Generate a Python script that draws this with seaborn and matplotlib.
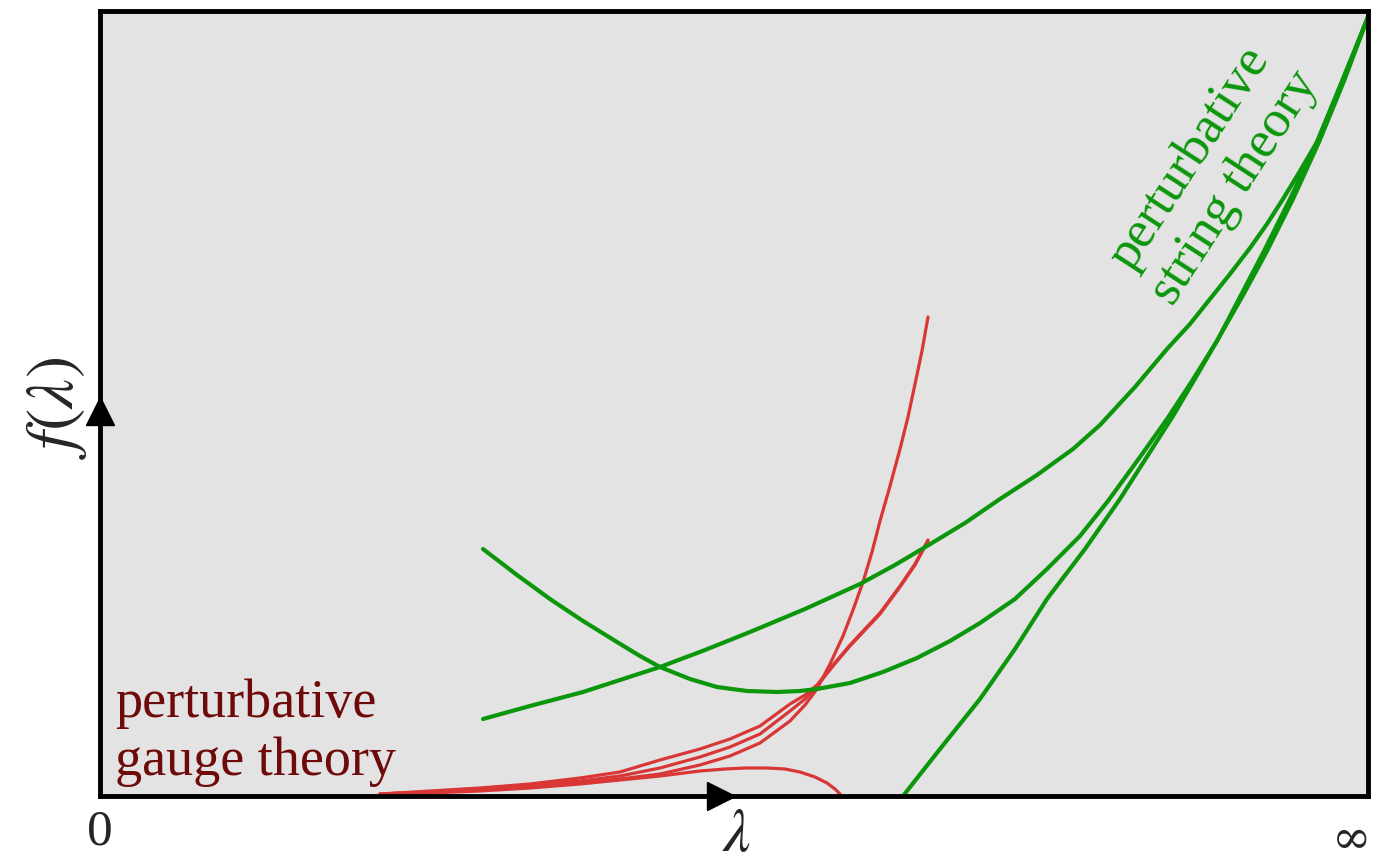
import numpy as np
import pandas as pd
import matplotlib
matplotlib.use("Agg")
import matplotlib.pyplot as plt
import seaborn as sns

# ---- data (lambda in chart units 0..1268, f in chart units 0..785) ----
red_1_x = [280, 330, 380, 430, 480, 520, 560, 600, 630, 660, 690, 705, 717, 730, 743, 753, 763, 772, 780, 790, 800, 808, 815, 822, 828]
red_1_y = [2, 4, 6, 9, 13, 17, 22, 31, 40, 53, 75, 91, 107, 132, 160, 186, 214, 244, 275, 310, 347, 379, 412, 445, 479]

red_2_x = [280, 330, 380, 430, 480, 520, 560, 600, 630, 660, 690, 705, 717, 733, 750, 765, 780, 800, 815, 828]
red_2_y = [2, 4, 7, 10, 15, 20, 28, 39, 49, 62, 85, 97, 110, 130, 150, 166, 182, 209, 231, 255]

red_3_x = [280, 330, 380, 430, 480, 520, 560, 600, 630, 660, 690, 705, 717, 733, 750, 765, 780, 800, 815, 828]
red_3_y = [2, 5, 8, 12, 18, 24, 36, 47, 57, 70, 92, 101, 111, 131, 151, 167, 183, 210, 232, 256]

red_4_x = [280, 330, 380, 430, 480, 520, 560, 600, 625, 645, 667, 685, 700, 715, 727, 735, 740]
red_4_y = [1, 3, 5, 8, 12, 16, 20, 25, 27, 28, 28, 27, 24, 19, 13, 7, 2]

green_1_x = [383, 417, 450, 483, 517, 540, 560, 590, 617, 647, 677, 700, 717, 750, 783, 817, 850, 880, 915, 947,
             980, 1008, 1040, 1067, 1092, 1117, 1140, 1163, 1190, 1217, 1242, 1268]
green_1_y = [247, 221, 197, 175, 154, 140, 129, 117, 109, 105, 104, 105, 107, 113, 124, 138, 155, 173, 197, 227,
             260, 295, 339, 377, 415, 455, 499, 543, 597, 654, 715, 779]

green_2_x = [383, 430, 483, 520, 560, 605, 650, 705, 760, 795, 827, 865, 900, 937, 973, 1000, 1035, 1067, 1090,
             1110, 1130, 1150, 1167, 1183, 1200, 1217, 1243, 1268]
green_2_y = [77, 90, 104, 116, 129, 146, 164, 187, 212, 231, 250, 273, 297, 321, 347, 371, 409, 447, 472,
             497, 522, 548, 572, 597, 625, 654, 715, 779]

green_3_x = [803, 840, 880, 915, 947, 985, 1020, 1050, 1073, 1096, 1118, 1142, 1166, 1193, 1219, 1244, 1268]
green_3_y = [0, 47, 97, 147, 197, 247, 297, 344, 380, 419, 457, 499, 543, 597, 654, 715, 779]

gauge_label = "perturbative\ngauge theory"
string_label = "perturbative\nstring theory"
x_tick_left = "0"
x_tick_right = "\u221e"
x_label = r"$\lambda$"
y_label = r"$f(\lambda)$"

RED = "#d93636"
GREEN = "#0b960b"
DARKRED = "#6e0a0a"
BG = "#e3e3e3"

def long_form(curves, name):
    frames = []
    for i, (xs, ys) in enumerate(curves):
        frames.append(pd.DataFrame({"lam": xs, "f": ys, "curve": f"{name}{i}"}))
    return pd.concat(frames, ignore_index=True)

red_df = long_form([(red_1_x, red_1_y), (red_2_x, red_2_y), (red_3_x, red_3_y), (red_4_x, red_4_y)], "r")
green_df = long_form([(green_1_x, green_1_y), (green_2_x, green_2_y), (green_3_x, green_3_y)], "g")

sns.set_style("white")
plt.rcParams["font.family"] = ["Liberation Serif", "DejaVu Serif"]
plt.rcParams["mathtext.fontset"] = "stix"

fig = plt.figure(figsize=(13.73, 8.62), dpi=100)
ax = fig.add_axes([100 / 1373, 65 / 862, 1268 / 1373, 785 / 862])
ax.set_facecolor(BG)

sns.lineplot(data=red_df, x="lam", y="f", units="curve", estimator=None, sort=False,
             color=RED, lw=2.3, ax=ax, legend=False, solid_capstyle="round", solid_joinstyle="round")
sns.lineplot(data=green_df, x="lam", y="f", units="curve", estimator=None, sort=False,
             color=GREEN, lw=3.0, ax=ax, legend=False, solid_capstyle="round", solid_joinstyle="round")

ax.set_xlim(0, 1268)
ax.set_ylim(0, 785)
ax.set_xticks([])
ax.set_yticks([])
ax.set_xlabel("")
ax.set_ylabel("")
for s in ax.spines.values():
    s.set_visible(True)
    s.set_color("black")
    s.set_linewidth(3.5)

# axis arrowheads
ax.plot([0.49], [0.0], marker=">", color="black", ms=20, transform=ax.transAxes,
        clip_on=False, zorder=5)
ax.plot([0.0], [0.49], marker="^", color="black", ms=20, transform=ax.transAxes,
        clip_on=False, zorder=5)

# labels
ax.text(0.012, 0.082, gauge_label, color=DARKRED, fontsize=39, ha="left", va="center",
        transform=ax.transAxes, linespacing=1.2)
ax.text(0.877, 0.795, string_label, color=GREEN, fontsize=38, ha="center", va="center",
        rotation=57, rotation_mode="anchor", multialignment="center",
        transform=ax.transAxes, linespacing=1.15)

ax.text(0.0, -0.045, x_tick_left, fontsize=37, ha="center", va="center", transform=ax.transAxes)
ax.text(0.502, -0.05, x_label, fontsize=44, ha="center", va="center", transform=ax.transAxes)
fig.text(0.999, 0.025, x_tick_right, fontsize=34, ha="right", va="center",
         family=["DejaVu Serif"])
ax.text(-0.034, 0.496, y_label, fontsize=48, ha="center", va="center", rotation=90,
        transform=ax.transAxes)

fig.savefig("out.png", dpi=100, facecolor="white")
